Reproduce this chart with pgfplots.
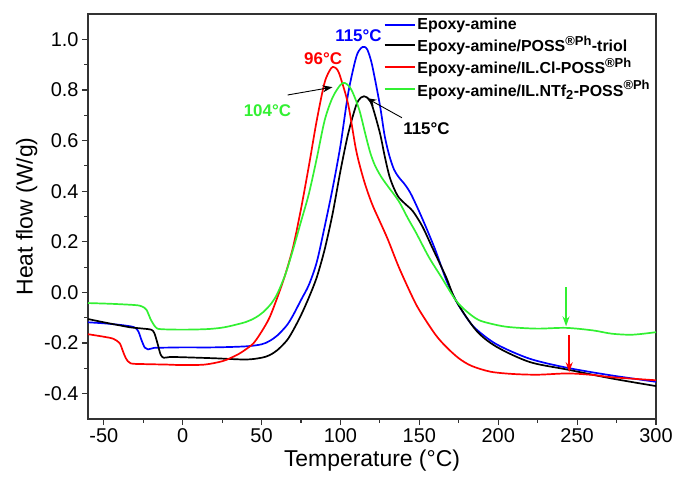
\documentclass[border=0pt]{standalone}
\usepackage{fontspec}
\setmainfont{Liberation Sans}
\usepackage{pgfplots}
\pgfplotsset{compat=1.18}
\usetikzlibrary{arrows.meta,calc}
\definecolor{cblue}{RGB}{0,0,255}
\definecolor{cred}{RGB}{255,0,0}
\definecolor{cgreen}{RGB}{50,240,50}
\newcommand{\sups}[1]{\textsuperscript{\fontsize{13}{13}\selectfont #1}}
\newcommand{\subs}[1]{\textsubscript{\fontsize{13}{13}\selectfont #1}}
\begin{document}
\begin{tikzpicture}
\begin{axis}[
  scale only axis,
  width=568bp, height=405bp,
  xmin=-60, xmax=300, ymin=-0.5, ymax=1.1,
  xtick={-50,0,50,100,150,200,250,300},
  ytick={-0.4,-0.2,0,0.2,0.4,0.6,0.8,1.0},
  minor x tick num=1, minor y tick num=1,
  tick align=outside, tick pos=left,
  major tick length=6bp, minor tick length=3.5bp,
  axis line style={line width=1.2bp, draw=black!80},
  every tick/.style={line width=1.2bp, black!80},
  /pgf/number format/assume math mode=true,
  tick label style={font=\fontsize{20}{24}\selectfont},
  yticklabel style={/pgf/number format/fixed, /pgf/number format/fixed zerofill, /pgf/number format/precision=1},
  xlabel={Temperature (°C)}, ylabel={Heat flow (W/g)},
  label style={font=\fontsize{23}{27}\selectfont},
  legend style={draw=none, fill=none, at={(0.515,1.0)}, anchor=north west,
    font=\bfseries\fontsize{16}{18}\selectfont, row sep=1bp},
  legend cell align=left,
  legend image code/.code={\draw[#1] (0bp,0bp) -- (30bp,0bp);},
]
\addplot[cblue, line width=1.7bp, smooth, tension=0.5] coordinates {(-60,-0.118) (-50,-0.122) (-40,-0.128) (-33,-0.134) (-30,-0.14) (-28,-0.155) (-26,-0.19) (-24,-0.218) (-22,-0.225) (-18,-0.219) (-10,-0.218) (0,-0.217) (20,-0.217) (40,-0.213) (50,-0.205) (55,-0.192) (60,-0.17) (66,-0.13) (70,-0.09) (75,-0.03) (80,0.03) (85,0.12) (90,0.26) (95,0.41) (100,0.58) (105,0.79) (110,0.93) (113,0.965) (115,0.97) (117,0.96) (120,0.90) (125,0.74) (128,0.62) (131,0.54) (134,0.485) (137,0.455) (141,0.425) (145,0.385) (152,0.29) (160,0.17) (167,0.05) (173,-0.03) (180,-0.1) (186,-0.145) (199,-0.205) (220,-0.262) (244,-0.298) (272,-0.328) (300,-0.353)};
\addlegendentry{Epoxy-amine}
\addplot[black, line width=1.7bp, smooth, tension=0.5] coordinates {(-60,-0.105) (-50,-0.118) (-40,-0.13) (-33,-0.138) (-25,-0.143) (-20,-0.147) (-18,-0.16) (-16,-0.2) (-14,-0.245) (-12,-0.258) (-8,-0.255) (0,-0.256) (20,-0.26) (40,-0.265) (50,-0.258) (55,-0.248) (60,-0.228) (66,-0.19) (70,-0.15) (75,-0.09) (80,-0.02) (85,0.06) (90,0.17) (95,0.31) (100,0.48) (105,0.63) (110,0.74) (113,0.77) (115,0.775) (117,0.77) (120,0.74) (125,0.63) (128,0.54) (131,0.46) (134,0.41) (137,0.375) (141,0.35) (146,0.32) (152,0.26) (158,0.18) (167,0.06) (173,-0.03) (186,-0.15) (199,-0.215) (220,-0.275) (244,-0.305) (272,-0.34) (300,-0.37)};
\addlegendentry{Epoxy-amine/POSS\sups{®Ph}-triol}
\addplot[cred, line width=1.7bp, smooth, tension=0.5] coordinates {(-60,-0.165) (-50,-0.175) (-44,-0.183) (-40,-0.2) (-38,-0.23) (-36,-0.26) (-33,-0.28) (-25,-0.283) (-10,-0.285) (0,-0.287) (14,-0.285) (25,-0.272) (30,-0.26) (35,-0.245) (40,-0.225) (45,-0.2) (50,-0.155) (55,-0.1) (60,-0.02) (65,0.07) (70,0.18) (75,0.33) (80,0.5) (85,0.68) (90,0.83) (94,0.885) (96,0.89) (98,0.88) (100,0.85) (105,0.74) (110,0.56) (115,0.44) (120,0.35) (125,0.28) (130,0.21) (137,0.10) (145,-0.01) (150,-0.07) (160,-0.165) (167,-0.215) (175,-0.26) (183,-0.29) (195,-0.313) (209,-0.322) (225,-0.325) (244,-0.32) (260,-0.326) (272,-0.335) (300,-0.347)};
\addlegendentry{Epoxy-amine/IL.Cl-POSS\sups{®Ph}}
\addplot[cgreen, line width=1.7bp, smooth, tension=0.5] coordinates {(-60,-0.042) (-45,-0.045) (-30,-0.05) (-26,-0.055) (-23,-0.068) (-20,-0.11) (-17,-0.138) (-14,-0.145) (0,-0.147) (15,-0.145) (24,-0.14) (30,-0.133) (40,-0.117) (46,-0.1) (51,-0.078) (56,-0.045) (60,-0.005) (65,0.07) (70,0.17) (75,0.28) (80,0.39) (85,0.53) (90,0.68) (95,0.77) (100,0.82) (103,0.827) (107,0.80) (112,0.72) (116,0.62) (119,0.55) (122,0.5) (126,0.455) (130,0.42) (137,0.36) (143,0.29) (148,0.235) (156,0.14) (164,0.06) (173,-0.03) (180,-0.075) (188,-0.11) (200,-0.13) (209,-0.138) (225,-0.143) (243,-0.14) (260,-0.15) (272,-0.163) (285,-0.167) (300,-0.157)};
\addlegendentry{Epoxy-amine/IL.NTf\subs{2}-POSS\sups{®Ph}}
\node[text=cblue, font=\bfseries\fontsize{17}{20}\selectfont] at (axis cs:111.4,1.016) {115°C};
\node[text=cred, font=\bfseries\fontsize{17}{20}\selectfont] at (axis cs:89,0.925) {96°C};
\node[text=cgreen, font=\bfseries\fontsize{17}{20}\selectfont] at (axis cs:53.7,0.72) {104°C};
\node[text=black, font=\bfseries\fontsize{17}{20}\selectfont] at (axis cs:154.5,0.646) {115°C};
\draw[-{Stealth[length=10bp,width=7bp]}, line width=0.9bp] (axis cs:66.5,0.78) -- (axis cs:95,0.811);
\draw[-{Stealth[length=10bp,width=7bp]}, line width=0.9bp] (axis cs:139,0.69) -- (axis cs:116.5,0.768);
\draw[cgreen, -{Stealth[length=10bp,width=7bp]}, line width=1.5bp] (axis cs:243,0.02) -- (axis cs:243,-0.134);
\draw[cred, -{Stealth[length=10bp,width=7bp]}, line width=1.5bp] (axis cs:245,-0.17) -- (axis cs:245,-0.315);
\end{axis}
\pgfresetboundingbox
\path ($(current axis.south west)+(-88bp,-58bp)$) rectangle ($(current axis.north east)+(20bp,14bp)$);
\end{tikzpicture}
\end{document}
